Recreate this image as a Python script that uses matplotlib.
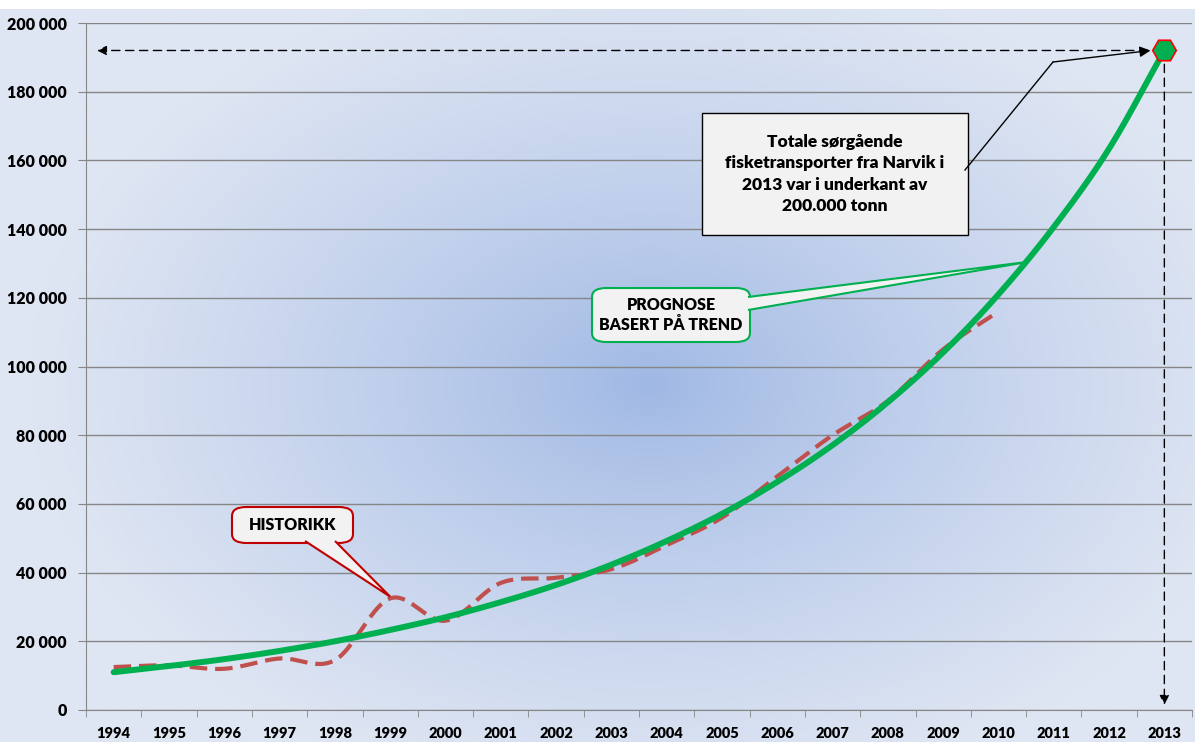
import matplotlib.pyplot as plt
import numpy as np
from matplotlib.patches import FancyBboxPatch, Polygon, Rectangle
from matplotlib.ticker import FuncFormatter, FixedLocator

plt.rcParams['font.family'] = ['Lato', 'DejaVu Sans']
plt.rcParams['font.weight'] = 'heavy'

years = ['1994', '1995', '1996', '1997', '1998', '1999', '2000', '2001', '2002', '2003',
         '2004', '2005', '2006', '2007', '2008', '2009', '2010', '2011', '2012', '2013']
# historical volumes (tonn), 1994-2010
history = [12500, 13000, 12000, 15000, 14500, 32500, 26000, 37000, 38500, 41000,
           48000, 56000, 68000, 80000, 90000, 105000, 116000]
# trend forecast (tonn), 1994-2013
trend = [11000, 12800, 14800, 17200, 20000, 23300, 27000, 31400, 36400, 42300,
         49200, 57100, 66400, 77100, 89600, 104100, 121000, 140600, 163400, 192000]

W, H = 1195, 742


def smooth(x, y, n=24):
    # Catmull-Rom curve through the points (like Excel's smoothed line)
    x = np.asarray(x, float)
    y = np.asarray(y, float)
    px = np.concatenate([[2 * x[0] - x[1]], x, [2 * x[-1] - x[-2]]])
    py = np.concatenate([[2 * y[0] - y[1]], y, [2 * y[-1] - y[-2]]])
    xs, ys = [], []
    t = np.linspace(0, 1, n, endpoint=False)
    for i in range(1, len(px) - 2):
        for p, out in ((px, xs), (py, ys)):
            p0, p1, p2, p3 = p[i - 1], p[i], p[i + 1], p[i + 2]
            out.extend(0.5 * ((2 * p1) + (-p0 + p2) * t
                              + (2 * p0 - 5 * p1 + 4 * p2 - p3) * t ** 2
                              + (-p0 + 3 * p1 - 3 * p2 + p3) * t ** 3))
    xs.append(x[-1])
    ys.append(y[-1])
    return np.array(xs), np.array(ys)


def fp(px, py):
    return (px / W, 1 - py / H)


fig = plt.figure(figsize=(W / 100, H / 100), dpi=100)
fig.patch.set_facecolor('white')

# gradient background
bg = fig.add_axes([0, 0, 1, (H - 9) / H])
gx, gy = np.meshgrid(np.linspace(0, W, 400), np.linspace(0, H - 9, 250))
r = np.sqrt(((gx - 650) / 620) ** 2 + ((gy - 375) / 420) ** 2)
r = np.clip(r, 0, 1)
c0 = np.array([158, 183, 228]) / 255
c1 = np.array([223, 230, 243]) / 255
img = c0[None, None, :] + (c1 - c0)[None, None, :] * (r[..., None] ** 0.8)
bg.imshow(img, aspect='auto', extent=[0, 1, 0, 1], interpolation='bilinear')
bg.axis('off')

ax = fig.add_axes([86 / W, 32 / H, (1192 - 86) / W, (710 - 23) / H])
ax.patch.set_alpha(0)
x = np.arange(len(years))

ax.set_xlim(-0.5, len(years) - 0.5)
ax.set_ylim(0, 200000)
ax.set_yticks(np.arange(0, 200001, 20000))
ax.yaxis.set_major_formatter(FuncFormatter(lambda v, p: f'{int(v):,}'.replace(',', ' ')))
ax.set_xticks(x)
ax.set_xticklabels(years)
ax.xaxis.set_minor_locator(FixedLocator(np.arange(-0.5, len(years), 1)))
ax.tick_params(axis='x', which='major', length=0, pad=12, labelsize=10.5)
ax.tick_params(axis='x', which='minor', length=5, color='#868686')
ax.tick_params(axis='y', length=6, color='#868686', labelsize=11.5, pad=8)
ax.grid(axis='y', color='#868686', lw=1)
ax.set_axisbelow(True)
for s in ['top', 'right']:
    ax.spines[s].set_visible(False)
for s in ['left', 'bottom']:
    ax.spines[s].set_color('#868686')

hx, hy = smooth(x[:len(history)], history)
ax.plot(hx, hy, color='#c0504d', lw=3, dashes=(4.2, 1.9), zorder=3)
tx, ty = smooth(x, trend)
ax.plot(tx, ty, color='#00b050', lw=4.3, zorder=4, solid_capstyle='round')
ax.plot(x[-1], trend[-1], marker='H', ms=17, mfc='#00b050', mec='#ff0000', mew=1.2, zorder=6)

# dashed arrows to axes
ax.annotate('', xy=(-0.3, trend[-1]), xytext=(x[-1] - 0.3, trend[-1]),
            arrowprops=dict(arrowstyle='-|>', ls=(0, (6, 4)), lw=1, color='black',
                            mutation_scale=14, shrinkA=0, shrinkB=0), zorder=5)
ax.annotate('', xy=(x[-1], 1500), xytext=(x[-1], trend[-1] - 4000),
            arrowprops=dict(arrowstyle='-|>', ls=(0, (6, 4)), lw=1, color='black',
                            mutation_scale=14, shrinkA=0, shrinkB=0), zorder=5)

# callout 1
fig.patches.append(Rectangle(fp(702, 235), 266 / W, 122 / H, transform=fig.transFigure,
                             facecolor='#f2f2f2', edgecolor='black', lw=1, zorder=5))
fig.text(*fp(835, 174), 'Totale sørgående\nfisketransporter fra Narvik i\n2013 var i underkant av\n200.000 tonn',
         ha='center', va='center', fontsize=12.5, linespacing=1.4, zorder=6)
fig.lines.append(plt.Line2D([965 / W, 1053 / W], [1 - 170 / H, 1 - 62 / H],
                            transform=fig.transFigure, color='black', lw=1, zorder=6))
ax.annotate('', xy=(x[-1] - 0.25, trend[-1]), xycoords='data',
            xytext=fp(1053, 62), textcoords='figure fraction',
            arrowprops=dict(arrowstyle='-|>', lw=1, color='black', mutation_scale=16,
                            shrinkA=0, shrinkB=0), zorder=6)


def callout(x0, y0, x1, y1, base, tip, text, edge):
    fig.patches.append(FancyBboxPatch(fp(x0, y1), (x1 - x0) / W, (y1 - y0) / H,
                                      boxstyle='round,pad=0,rounding_size=0.012',
                                      transform=fig.transFigure, facecolor='#f2f2f2',
                                      edgecolor=edge, lw=1.5, zorder=5))
    pts = [fp(*base[0]), tip, fp(*base[1])]
    fig.patches.append(Polygon(pts, closed=False, transform=fig.transFigure,
                               facecolor='#f2f2f2', edgecolor=edge, lw=1.5, zorder=6))
    fig.text(*fp((x0 + x1) / 2, (y0 + y1) / 2), text, ha='center', va='center',
             fontsize=11.5, linespacing=1.35, zorder=7)


def data_to_fig(xd, yd):
    p = ax.transData.transform((xd, yd))
    return tuple(fig.transFigure.inverted().transform(p))


callout(592, 288, 750, 342, [(748, 297), (748, 310)], data_to_fig(16.55, 130500),
        'PROGNOSE\nBASERT PÅ TREND', '#00b050')
callout(232, 507, 353, 543, [(305, 541), (335, 541)], data_to_fig(5.0, 33000),
        'HISTORIKK', '#c00000')

fig.savefig('out.png', dpi=100)
